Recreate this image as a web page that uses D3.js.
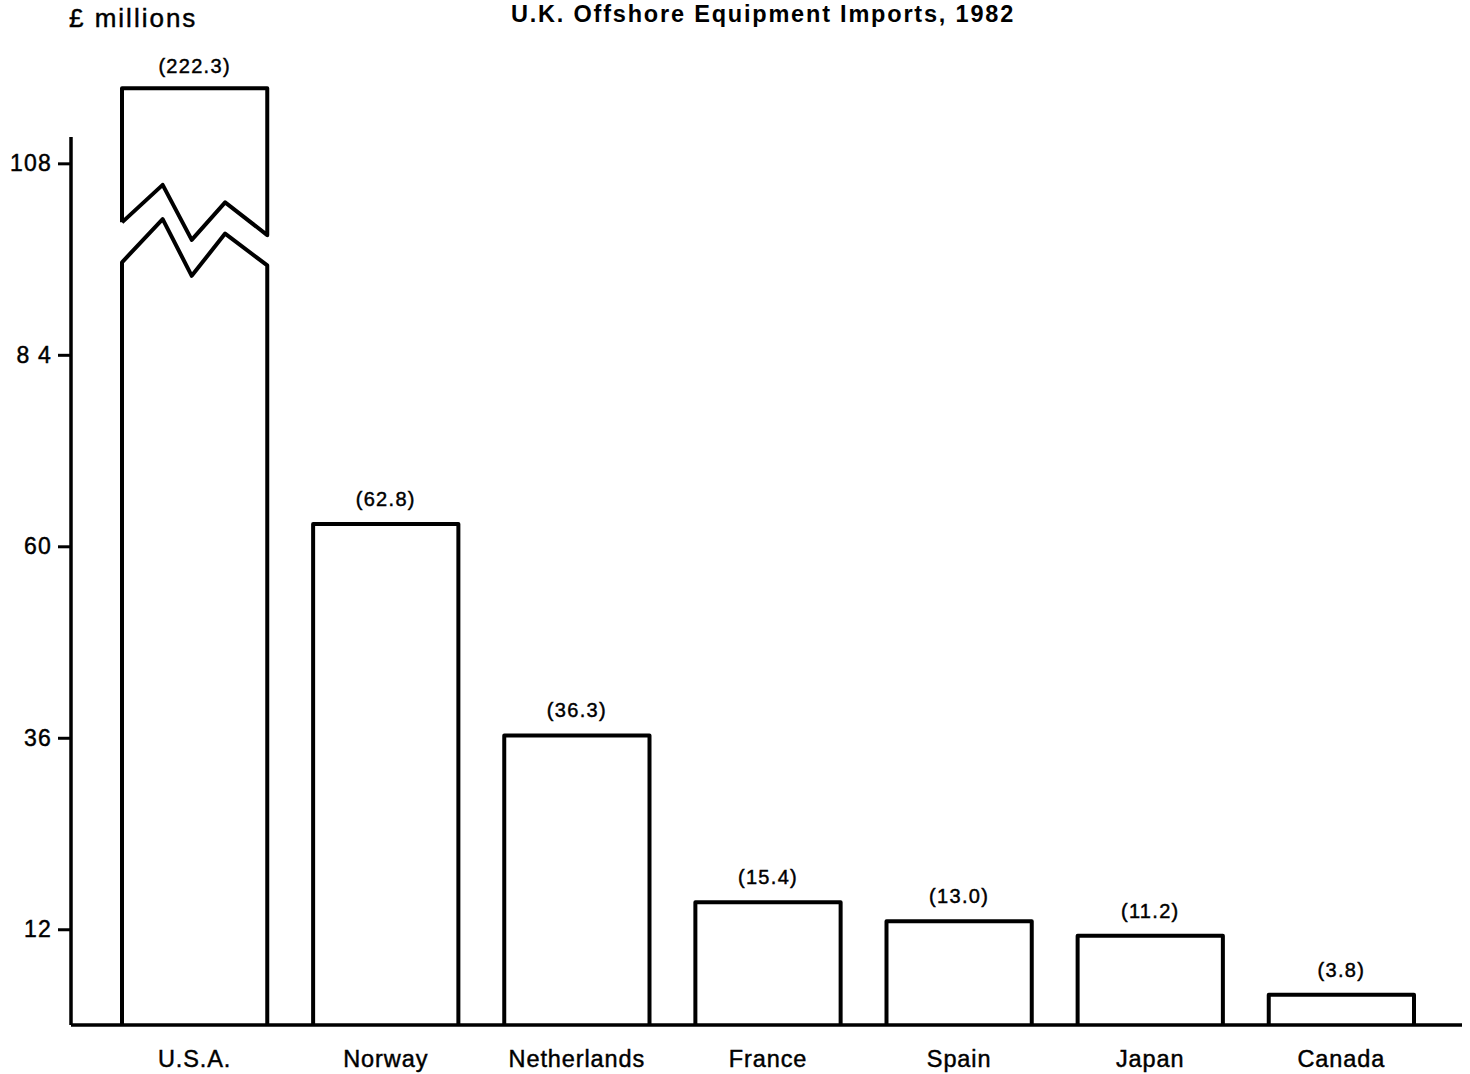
<!DOCTYPE html>
<html><head><meta charset="utf-8">
<script src="https://cdn.jsdelivr.net/npm/d3@7"></script>
<style>
html,body{margin:0;padding:0;background:#fff;}
svg{display:block;}
text{font-family:"Liberation Sans",Arial,Helvetica,sans-serif;fill:#000;}
.reg{stroke:#000;stroke-width:0.45px;}
</style></head>
<body>
<svg id="chart" width="1470" height="1074"></svg>
<script>
// ---- data ----
const categories = ["U.S.A.", "Norway", "Netherlands", "France", "Spain", "Japan", "Canada"];
const values = [222.3, 62.8, 36.3, 15.4, 13.0, 11.2, 3.8];
const valueLabels = ["(222.3)", "(62.8)", "(36.3)", "(15.4)", "(13.0)", "(11.2)", "(3.8)"];
const yTickValues = [12, 36, 60, 84, 108];
const yTickLabels = ["12", "36", "60", "8 4", "108"];
// broken-bar display (in data units): drawn top of the broken U.S.A. bar and the break profile
const brokenDisplayTop = 117.4;
const breakUpper = [[0, 100.6], [0.28, 105.3], [0.48, 98.4], [0.71, 103.1], [1, 99.0]];
const breakLower = [[0, 95.6], [0.28, 101.0], [0.48, 93.9], [0.71, 99.2], [1, 95.2]];
const titleText = "U.K. Offshore Equipment Imports, 1982";
const unitText = "\u00a3 millions";

// ---- layout ----
const svg = d3.select("#chart");
const x = d3.scaleBand().domain(categories).range([122, 1414]).paddingInner(0.24).paddingOuter(0);
const y = d3.scaleLinear().domain([0, 111.3]).range([1025, 137]);
const axisX0 = 71, axisX1 = 1462;
const sw = 4;

// title and unit
svg.append("text").attr("x", 763).attr("y", 22).attr("text-anchor", "middle")
  .style("font-size", "23.5px").style("font-weight", "bold").style("letter-spacing", "1.8px")
  .text(titleText);
svg.append("text").attr("class", "reg").attr("x", 69).attr("y", 27)
  .style("font-size", "26px").style("letter-spacing", "2px").text(unitText);

// y axis
const yAxis = d3.axisLeft(y).tickValues(yTickValues).tickSize(13).tickPadding(6)
  .tickFormat((d, i) => yTickLabels[i]);
const gy = svg.append("g").attr("transform", `translate(${axisX0},0)`).call(yAxis);
gy.select(".domain").attr("stroke", "#000").attr("stroke-width", 3.5).attr("d", `M0,${y(111.3)}V${y(0)}`);
gy.selectAll(".tick line").attr("stroke", "#000").attr("stroke-width", 3);
gy.selectAll(".tick text").attr("fill", "#000").attr("class", "reg")
  .style("font-size", "23px").style("letter-spacing", "1.2px")
  .style("font-family", "'Liberation Sans',Arial,sans-serif");

// x axis line
svg.append("line").attr("x1", axisX0).attr("x2", axisX1).attr("y1", y(0)).attr("y2", y(0))
  .attr("stroke", "#000").attr("stroke-width", 3.5);

// bars
const bw = x.bandwidth();
const g = svg.append("g").attr("fill", "none").attr("stroke", "#000").attr("stroke-width", sw)
  .attr("stroke-linejoin", "round");
categories.forEach((c, i) => {
  const x0 = x(c), x1 = x(c) + bw;
  const v = values[i];
  let labelY;
  if (v > y.domain()[1]) {
    const up = d3.path();
    up.moveTo(x0 + bw * breakUpper[0][0], y(breakUpper[0][1]));
    up.lineTo(x0, y(brokenDisplayTop));
    up.lineTo(x1, y(brokenDisplayTop));
    up.lineTo(x1, y(breakUpper[breakUpper.length - 1][1]));
    for (let k = breakUpper.length - 2; k >= 0; k--) up.lineTo(x0 + bw * breakUpper[k][0], y(breakUpper[k][1]));
    g.append("path").attr("d", up.toString());
    const lo = d3.path();
    lo.moveTo(x0, y(0));
    lo.lineTo(x0, y(breakLower[0][1]));
    for (let k = 1; k < breakLower.length; k++) lo.lineTo(x0 + bw * breakLower[k][0], y(breakLower[k][1]));
    lo.lineTo(x1, y(0));
    g.append("path").attr("d", lo.toString());
    labelY = y(brokenDisplayTop) - 15;
  } else {
    const p = d3.path();
    p.moveTo(x0, y(0)); p.lineTo(x0, y(v)); p.lineTo(x1, y(v)); p.lineTo(x1, y(0));
    g.append("path").attr("d", p.toString());
    labelY = y(v) - 18;
  }
  svg.append("text").attr("class", "reg").attr("x", x0 + bw / 2).attr("y", labelY)
    .attr("text-anchor", "middle").style("font-size", "20px").style("letter-spacing", "1.3px")
    .text(valueLabels[i]);
});

// category labels
svg.append("g").selectAll("text").data(categories).join("text").attr("class", "reg")
  .attr("x", d => x(d) + bw / 2).attr("y", 1067).attr("text-anchor", "middle")
  .style("font-size", "23.5px").style("letter-spacing", "0.9px").text(d => d);
</script>
</body></html>
